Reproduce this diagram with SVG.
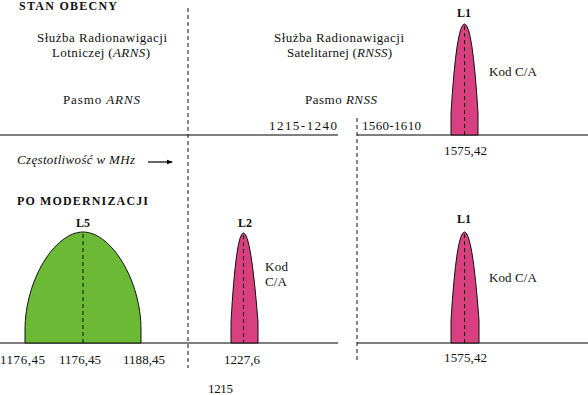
<svg xmlns="http://www.w3.org/2000/svg" width="588" height="395" viewBox="0 0 588 395" font-family="'Liberation Serif', 'DejaVu Serif', serif">
<defs>
<style>
text{font-family:'Liberation Serif','DejaVu Serif',serif;font-size:13px;fill:#111}
.b{font-weight:bold;font-size:12px}
.i{font-style:italic}
.m{text-anchor:middle}
.axis{stroke:#000;stroke-width:1.2;fill:none}
.dash{stroke:#111;stroke-width:1;stroke-dasharray:4,3;fill:none}
.pink{fill:#D8407F;stroke:#111;stroke-width:1}
.green{fill:#6BB935;stroke:#111;stroke-width:1}
</style>
<marker id="ah" markerWidth="6" markerHeight="6" refX="5" refY="3" orient="auto" markerUnits="userSpaceOnUse">
<path d="M0,0.8 L6,3 L0,5.2 Z" fill="#000"/>
</marker>
</defs>
<rect width="588" height="395" fill="#fff"/>

<g id="connectors">
<line class="axis" x1="0" y1="135" x2="338" y2="135"/>
<line class="axis" x1="357" y1="135" x2="588" y2="135"/>
<line class="axis" x1="0" y1="343" x2="338" y2="343"/>
<line class="axis" x1="357" y1="343" x2="588" y2="343"/>
<line class="dash" x1="188" y1="8" x2="188" y2="368"/>
<line class="dash" x1="357" y1="118" x2="357" y2="360"/>
<line x1="148" y1="162" x2="172" y2="162" stroke="#000" stroke-width="1.2" marker-end="url(#ah)"/>
</g>

<g id="headings">
<text class="b" x="19" y="10" textLength="98" lengthAdjust="spacing">STAN OBECNY</text>
<text class="b" x="17" y="205" textLength="131" lengthAdjust="spacing">PO MODERNIZACJI</text>
<text class="i" x="17" y="164" textLength="118" lengthAdjust="spacing">Częstotliwość w MHz</text>
</g>

<g id="arns">
<text x="37" y="42" textLength="130" lengthAdjust="spacing">Służba Radionawigacji</text>
<text x="52" y="57" textLength="98" lengthAdjust="spacing">Lotniczej (<tspan class="i">ARNS</tspan>)</text>
<text x="63" y="104" textLength="77" lengthAdjust="spacing">Pasmo <tspan class="i">ARNS</tspan></text>
<text x="269" y="130" textLength="68" lengthAdjust="spacing">1215-1240</text>
</g>

<g id="rnss">
<text x="274" y="42" textLength="130" lengthAdjust="spacing">Służba Radionawigacji</text>
<text x="287" y="57" textLength="105" lengthAdjust="spacing">Satelitarnej (<tspan class="i">RNSS</tspan>)</text>
<text x="305" y="104" textLength="72" lengthAdjust="spacing">Pasmo <tspan class="i">RNSS</tspan></text>
<text x="362" y="130" textLength="59" lengthAdjust="spacing">1560-1610</text>
</g>

<g id="L1-top">
<path class="pink" d="M451,135 L451,113 Q456.5,24 464.5,24 Q472.5,24 478,113 L478,135 Z"/>
<line class="dash" x1="464.5" y1="26" x2="464.5" y2="135"/>
<text class="b m" x="464" y="17">L1</text>
<text x="489" y="76" textLength="48" lengthAdjust="spacing">Kod C/A</text>
<text x="444" y="155" textLength="43" lengthAdjust="spacing">1575,42</text>
</g>

<g id="L5">
<path class="green" d="M25,343 L25,330 C25,280 55,232 83,232 C111,232 141,280 141,330 L141,343 Z"/>
<line class="dash" x1="83" y1="234" x2="83" y2="343"/>
<text class="b m" x="83" y="227">L5</text>
<text x="0" y="364" textLength="45" lengthAdjust="spacing">1176,45</text>
<text x="59" y="364" textLength="42" lengthAdjust="spacing">1176,45</text>
<text x="123" y="364" textLength="42" lengthAdjust="spacing">1188,45</text>
<text x="208" y="393" textLength="25" lengthAdjust="spacing">1215</text>
</g>

<g id="L2">
<path class="pink" d="M231,343 L231,322 Q236,233 243.5,233 Q251,233 258,322 L258,343 Z"/>
<line class="dash" x1="243.5" y1="235" x2="243.5" y2="343"/>
<text class="b m" x="245" y="227">L2</text>
<text x="265" y="271" textLength="23" lengthAdjust="spacing">Kod</text>
<text x="265" y="286" textLength="22" lengthAdjust="spacing">C/A</text>
<text x="224" y="364" textLength="36" lengthAdjust="spacing">1227,6</text>
</g>

<g id="L1-bottom">
<path class="pink" d="M451,343 L451,320 Q456.5,232 464.5,232 Q472.5,232 479,320 L479,343 Z"/>
<line class="dash" x1="464.5" y1="234" x2="464.5" y2="343"/>
<text class="b m" x="464" y="223">L1</text>
<text x="489" y="282" textLength="48" lengthAdjust="spacing">Kod C/A</text>
<text x="444" y="362" textLength="43" lengthAdjust="spacing">1575,42</text>
</g>
</svg>
